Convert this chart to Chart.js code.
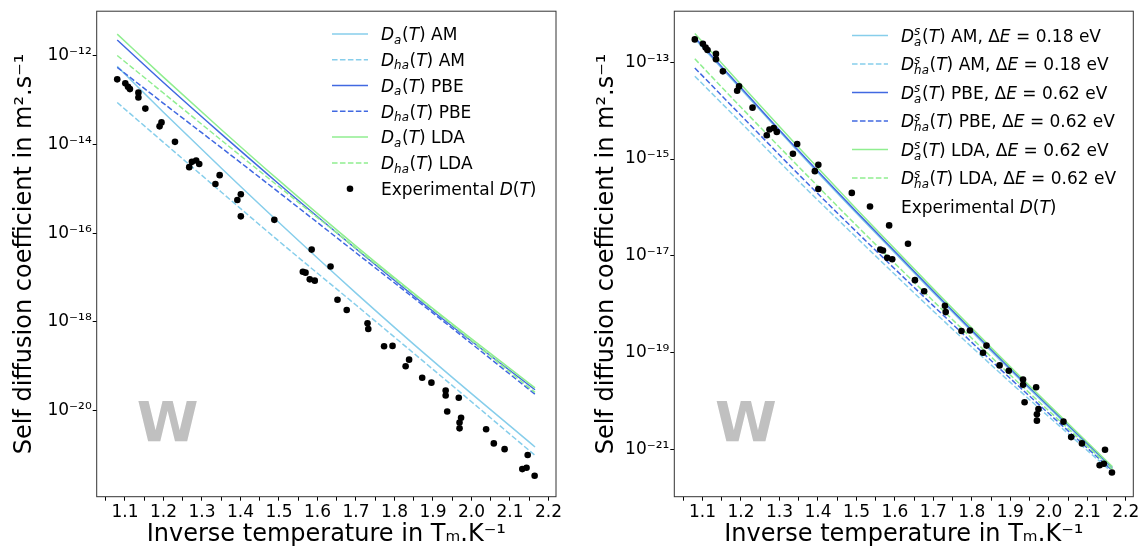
<!DOCTYPE html>
<html>
<head>
<meta charset="utf-8">
<script src="https://cdn.jsdelivr.net/npm/chart.js@4.4.0/dist/chart.umd.min.js"></script>
<style>
html,body{margin:0;padding:0;background:#fff;}
#wrap{position:relative;width:1144px;height:556px;overflow:hidden;background:#fff;}
canvas{position:absolute;top:0;}
</style>
</head>
<body>
<div id="wrap">
<canvas id="cLeft" width="572" height="556" style="left:0px"></canvas>
<canvas id="cRight" width="572" height="556" style="left:572px"></canvas>
</div>
<script>
// ---------------- data ----------------
const xLine = [1.08, 1.2, 1.35, 1.5, 1.7, 1.9, 2.165];

// left panel: D_a(T), D_ha(T)
const L_Da_AM   = [5.78e-13, 5.37e-14, 2.95e-15, 1.74e-16, 4.47e-18, 1.32e-19, 1.51e-21];
const L_Dha_AM  = [8.85e-14, 1.12e-14, 8.51e-16, 6.61e-17, 2.40e-18, 8.51e-20, 9.77e-22];
const L_Da_PBE  = [2.27e-12, 2.51e-13, 1.74e-14, 1.29e-15, 4.47e-17, 1.74e-18, 2.95e-20];
const L_Dha_PBE = [5.50e-13, 8.51e-14, 8.51e-15, 8.32e-16, 3.63e-17, 1.58e-18, 2.34e-20];
const L_Da_LDA  = [3.09e-12, 3.31e-13, 2.19e-14, 1.55e-15, 5.13e-17, 2.00e-18, 3.24e-20];
const L_Dha_LDA = [1.02e-12, 1.45e-13, 1.26e-14, 1.12e-15, 4.57e-17, 1.91e-18, 2.57e-20];

// right panel: D^s_a(T), D^s_ha(T)
const R_Da_AM   = [3.02e-13, 2.75e-14, 1.38e-15, 7.59e-17, 1.74e-18, 4.37e-20, 4.07e-22];
const R_Dha_AM  = [5.13e-14, 5.62e-15, 3.47e-16, 2.40e-17, 7.24e-19, 2.45e-20, 3.39e-22];
const R_Da_PBE  = [3.24e-13, 2.95e-14, 1.48e-15, 8.13e-17, 1.86e-18, 4.68e-20, 4.27e-22];
const R_Dha_PBE = [7.59e-14, 7.94e-15, 4.79e-16, 3.16e-17, 9.33e-19, 2.95e-20, 3.72e-22];
const R_Da_LDA  = [3.89e-13, 3.47e-14, 1.74e-15, 9.33e-17, 2.09e-18, 5.13e-20, 4.47e-22];
const R_Dha_LDA = [1.17e-13, 1.17e-14, 6.92e-16, 4.27e-17, 1.17e-18, 3.47e-20, 3.98e-22];

// experimental D(T)
const expX = [1.080,1.101,1.108,1.113,1.135,1.135,1.153,1.195,1.190,1.230,
              1.267,1.274,1.285,1.293,1.346,1.335,1.401,1.392,1.401,1.488,
              1.585,1.634,1.562,1.569,1.580,1.593,1.652,1.676,1.730,1.732,
              1.773,1.795,1.838,1.829,1.872,1.896,1.933,1.933,1.967,1.937,
              1.973,1.969,1.969,2.038,2.058,2.086,2.146,2.132,2.143,2.164];
const expD = [2.95e-13,2.40e-13,2.00e-13,1.78e-13,1.48e-13,1.15e-13,6.46e-14,3.16e-14,2.57e-14,1.15e-14,
              3.09e-15,4.07e-15,4.37e-15,3.63e-15,2.04e-15,1.29e-15,7.59e-16,5.62e-16,2.40e-16,2.00e-16,
              4.27e-17,1.78e-17,1.35e-17,1.29e-17,9.12e-18,8.51e-18,3.16e-18,1.86e-18,9.33e-19,6.92e-19,
              2.82e-19,2.88e-19,1.41e-19,1.00e-19,5.50e-20,4.27e-20,2.82e-20,2.19e-20,1.95e-20,9.55e-21,
              6.92e-21,5.37e-21,3.98e-21,3.80e-21,1.82e-21,1.35e-21,1.00e-21,4.79e-22,5.13e-22,3.39e-22];

// ticks
const xTickVals   = [1.05,1.10,1.15,1.20,1.25,1.30,1.35,1.40,1.45,1.50,1.55,1.60,1.65,1.70,1.75,1.80,1.85,1.90,1.95,2.00,2.05,2.10,2.15,2.20];
const xTickLabels = ['','1.1','','1.2','','1.3','','1.4','','1.5','','1.6','','1.7','','1.8','','1.9','','2.0','','2.1','','2.2'];
const yTicksLeft   = [1e-20, 1e-18, 1e-16, 1e-14, 1e-12];
const yLabelsLeft  = ['10⁻²⁰','10⁻¹⁸','10⁻¹⁶','10⁻¹⁴','10⁻¹²'];
const yTicksRight  = [1e-21, 1e-19, 1e-17, 1e-15, 1e-13];
const yLabelsRight = ['10⁻²¹','10⁻¹⁹','10⁻¹⁷','10⁻¹⁵','10⁻¹³'];

// text
const yTitle = 'Self diffusion coefficient in m².s⁻¹';
const xTitle = 'Inverse temperature in Tₘ.K⁻¹';
const labelsLeft = ['Dₐ(T) AM','Dₕₐ(T) AM','Dₐ(T) PBE','Dₕₐ(T) PBE','Dₐ(T) LDA','Dₕₐ(T) LDA','Experimental D(T)'];
const labelsRight = ['Dₐˢ(T) AM, ΔE = 0.18 eV','Dₕₐˢ(T) AM, ΔE = 0.18 eV','Dₐˢ(T) PBE, ΔE = 0.62 eV',
                     'Dₕₐˢ(T) PBE, ΔE = 0.62 eV','Dₐˢ(T) LDA, ΔE = 0.62 eV','Dₕₐˢ(T) LDA, ΔE = 0.62 eV','Experimental D(T)'];

// rich legend text (math-like rendering)
const N = t => ({t}), I = t => ({t, i:true}), S = (sub, sup) => ({sub, sup});
const richLeft = [
  [I('D'), S('a'), N('('), I('T'), N(') AM')],
  [I('D'), S('ha'), N('('), I('T'), N(') AM')],
  [I('D'), S('a'), N('('), I('T'), N(') PBE')],
  [I('D'), S('ha'), N('('), I('T'), N(') PBE')],
  [I('D'), S('a'), N('('), I('T'), N(') LDA')],
  [I('D'), S('ha'), N('('), I('T'), N(') LDA')],
  [N('Experimental '), I('D'), N('('), I('T'), N(')')]
];
const richRight = [
  [I('D'), S('a','s'), N('('), I('T'), N(') AM, Δ'), I('E'), N(' = 0.18 eV')],
  [I('D'), S('ha','s'), N('('), I('T'), N(') AM, Δ'), I('E'), N(' = 0.18 eV')],
  [I('D'), S('a','s'), N('('), I('T'), N(') PBE, Δ'), I('E'), N(' = 0.62 eV')],
  [I('D'), S('ha','s'), N('('), I('T'), N(') PBE, Δ'), I('E'), N(' = 0.62 eV')],
  [I('D'), S('a','s'), N('('), I('T'), N(') LDA, Δ'), I('E'), N(' = 0.62 eV')],
  [I('D'), S('ha','s'), N('('), I('T'), N(') LDA, Δ'), I('E'), N(' = 0.62 eV')],
  [N('Experimental '), I('D'), N('('), I('T'), N(')')]
];

// ---------------- styling ----------------
const FONT = 'DejaVu Sans';
const C_AM = '#87ceeb', C_PBE = '#4169e1', C_LDA = '#90ee90';
const DASH = [5.55, 2.4];
Chart.defaults.font.family = FONT;
Chart.defaults.color = '#000';

function drawRich(ctx, parts, x, y, fs) {
  ctx.fillStyle = '#000';
  ctx.textBaseline = 'alphabetic';
  ctx.textAlign = 'left';
  const f = (it, size) => (it ? 'italic ' : '') + size + 'px "' + FONT + '"';
  let cx = x;
  for (const p of parts) {
    if (p.t !== undefined) {
      ctx.font = f(p.i, fs);
      ctx.fillText(p.t, cx, y);
      cx += ctx.measureText(p.t).width;
    } else {
      const ss = fs * 0.7;
      ctx.font = f(true, ss);
      let w = 0;
      if (p.sup) { ctx.fillText(p.sup, cx, y - fs * 0.38); w = Math.max(w, ctx.measureText(p.sup).width); }
      if (p.sub) { ctx.fillText(p.sub, cx, y + fs * (p.sup ? 0.24 : 0.2)); w = Math.max(w, ctx.measureText(p.sub).width); }
      cx += w + fs * 0.04;
    }
  }
}

const mathLegend = {
  id: 'mathLegend',
  afterDatasetsDraw(chart, args, o) {
    const ctx = chart.ctx, ca = chart.chartArea;
    const ds = chart.data.datasets;
    ctx.save();
    o.rich.forEach((parts, i) => {
      const d = ds[o.map[i]];
      const cy = ca.top + o.y0 + i * o.dy;
      const hx = ca.right + o.x;
      if (d.showLine === false) {
        ctx.beginPath();
        ctx.arc(hx + o.hw / 2, cy, d.pointRadius, 0, Math.PI * 2);
        ctx.fillStyle = d.pointBackgroundColor;
        ctx.fill();
      } else {
        ctx.beginPath();
        ctx.setLineDash(d.borderDash || []);
        ctx.strokeStyle = d.borderColor;
        ctx.lineWidth = d.borderWidth;
        ctx.moveTo(hx, cy);
        ctx.lineTo(hx + o.hw, cy);
        ctx.stroke();
        ctx.setLineDash([]);
      }
      drawRich(ctx, parts, hx + o.hw + o.gap, cy + o.base, o.fs);
    });
    ctx.restore();
  }
};

const frame = {
  id: 'frame',
  afterDraw(chart) {
    const ctx = chart.ctx, ca = chart.chartArea;
    ctx.save();
    ctx.strokeStyle = '#333';
    ctx.lineWidth = 1;
    ctx.strokeRect(ca.left, ca.top, ca.right - ca.left, ca.bottom - ca.top);
    ctx.restore();
  }
};

const wMark = {
  id: 'wMark',
  beforeDatasetsDraw(chart, args, o) {
    const ctx = chart.ctx, ca = chart.chartArea;
    ctx.save();
    ctx.font = 'bold 56px "' + FONT + '"';
    ctx.fillStyle = '#c0c0c0';
    ctx.textBaseline = 'alphabetic';
    ctx.textAlign = 'left';
    ctx.fillText(o.text, ca.left + o.fx * (ca.right - ca.left), ca.bottom - o.fy * (ca.bottom - ca.top));
    ctx.restore();
  }
};

function lineDS(label, ys, color, dashed, order) {
  return {
    label, data: xLine.map((x, i) => ({x, y: ys[i]})),
    borderColor: color, backgroundColor: color, borderWidth: 1.5,
    borderDash: dashed ? DASH : [], pointRadius: 0, fill: false,
    cubicInterpolationMode: 'monotone', order
  };
}
function expDS(label) {
  return {
    label, data: expX.map((x, i) => ({x, y: expD[i]})),
    showLine: false, pointRadius: 3.3, pointBackgroundColor: '#000',
    pointBorderWidth: 0, borderColor: '#000', backgroundColor: '#000', order: 0
  };
}

function makeChart(id, cfg) {
  return new Chart(document.getElementById(id), {
    type: 'line',
    data: { datasets: cfg.datasets },
    plugins: [wMark, mathLegend, frame],
    options: {
      responsive: false, animation: false, devicePixelRatio: 1, events: [],
      layout: { padding: { left: 0, top: 4, right: cfg.padRight, bottom: 0 } },
      plugins: {
        legend: { display: false }, tooltip: { enabled: false },
        wMark: { text: 'W', fx: cfg.wfx, fy: 0.1137 },
        mathLegend: { rich: cfg.rich, map: [0,1,2,3,4,5,6], x: cfg.legX, y0: cfg.legY0, dy: cfg.legDy, hw: 36, gap: 13, base: 6.2, fs: 17 }
      },
      scales: {
        x: {
          type: 'linear', min: 1.0267, max: 2.2195, bounds: 'data',
          afterBuildTicks: s => { s.ticks = xTickVals.map(v => ({value: v})); },
          afterFit: s => { s.height = 59.3; },
          ticks: { autoSkip: false, maxRotation: 0, minRotation: 0, padding: 1.7, color: '#000',
                   font: { family: FONT, size: 17 }, callback: (v, i) => xTickLabels[i] },
          grid: { display: true, drawOnChartArea: false, drawTicks: true, tickLength: 4, tickColor: '#000', tickWidth: 1 },
          border: { display: false },
          title: { display: true, text: xTitle, color: '#000', font: { family: FONT, size: 24 }, padding: { top: 0, bottom: 6.9 } }
        },
        y: {
          type: 'logarithmic', min: cfg.yMin, max: cfg.yMax, bounds: 'data',
          afterBuildTicks: s => { s.ticks = cfg.yTicks.map(v => ({value: v})); },
          afterFit: s => { s.width = cfg.yWidth; },
          ticks: { autoSkip: false, padding: 1, color: '#000', font: { family: FONT, size: 17 },
                   callback: (v, i) => cfg.yLabels[i] },
          grid: { display: true, drawOnChartArea: false, drawTicks: true, tickLength: 4, tickColor: '#000', tickWidth: 1 },
          border: { display: false },
          title: { display: true, text: yTitle, color: '#000', font: { family: FONT, size: 24 }, padding: { top: cfg.yTitlePad, bottom: 0 } }
        }
      }
    }
  });
}

makeChart('cLeft', {
  datasets: [
    lineDS(labelsLeft[0], L_Da_AM, C_AM, false, 6),
    lineDS(labelsLeft[1], L_Dha_AM, C_AM, true, 5),
    lineDS(labelsLeft[2], L_Da_PBE, C_PBE, false, 4),
    lineDS(labelsLeft[3], L_Dha_PBE, C_PBE, true, 3),
    lineDS(labelsLeft[4], L_Da_LDA, C_LDA, false, 2),
    lineDS(labelsLeft[5], L_Dha_LDA, C_LDA, true, 1),
    expDS(labelsLeft[6])
  ],
  rich: richLeft, padRight: 16, yWidth: 96.7, yTitlePad: 10.6,
  yMin: 1.143e-22, yMax: 1.016e-11, yTicks: yTicksLeft, yLabels: yLabelsLeft,
  legX: -224, legY0: 22.7, legDy: 25.8, wfx: 0.087
});

makeChart('cRight', {
  datasets: [
    lineDS(labelsRight[0], R_Da_AM, C_AM, false, 6),
    lineDS(labelsRight[1], R_Dha_AM, C_AM, true, 5),
    lineDS(labelsRight[2], R_Da_PBE, C_PBE, false, 4),
    lineDS(labelsRight[3], R_Dha_PBE, C_PBE, true, 3),
    lineDS(labelsRight[4], R_Da_LDA, C_LDA, false, 2),
    lineDS(labelsRight[5], R_Dha_LDA, C_LDA, true, 1),
    expDS(labelsRight[6])
  ],
  rich: richRight, padRight: 10.7, yWidth: 102.3, yTitlePad: 20.3,
  yMin: 1.072e-22, yMax: 1.126e-12, yTicks: yTicksRight, yLabels: yLabelsRight,
  legX: -281.3, legY0: 24.3, legDy: 28.5, wfx: 0.0887
});
</script>
</body>
</html>
